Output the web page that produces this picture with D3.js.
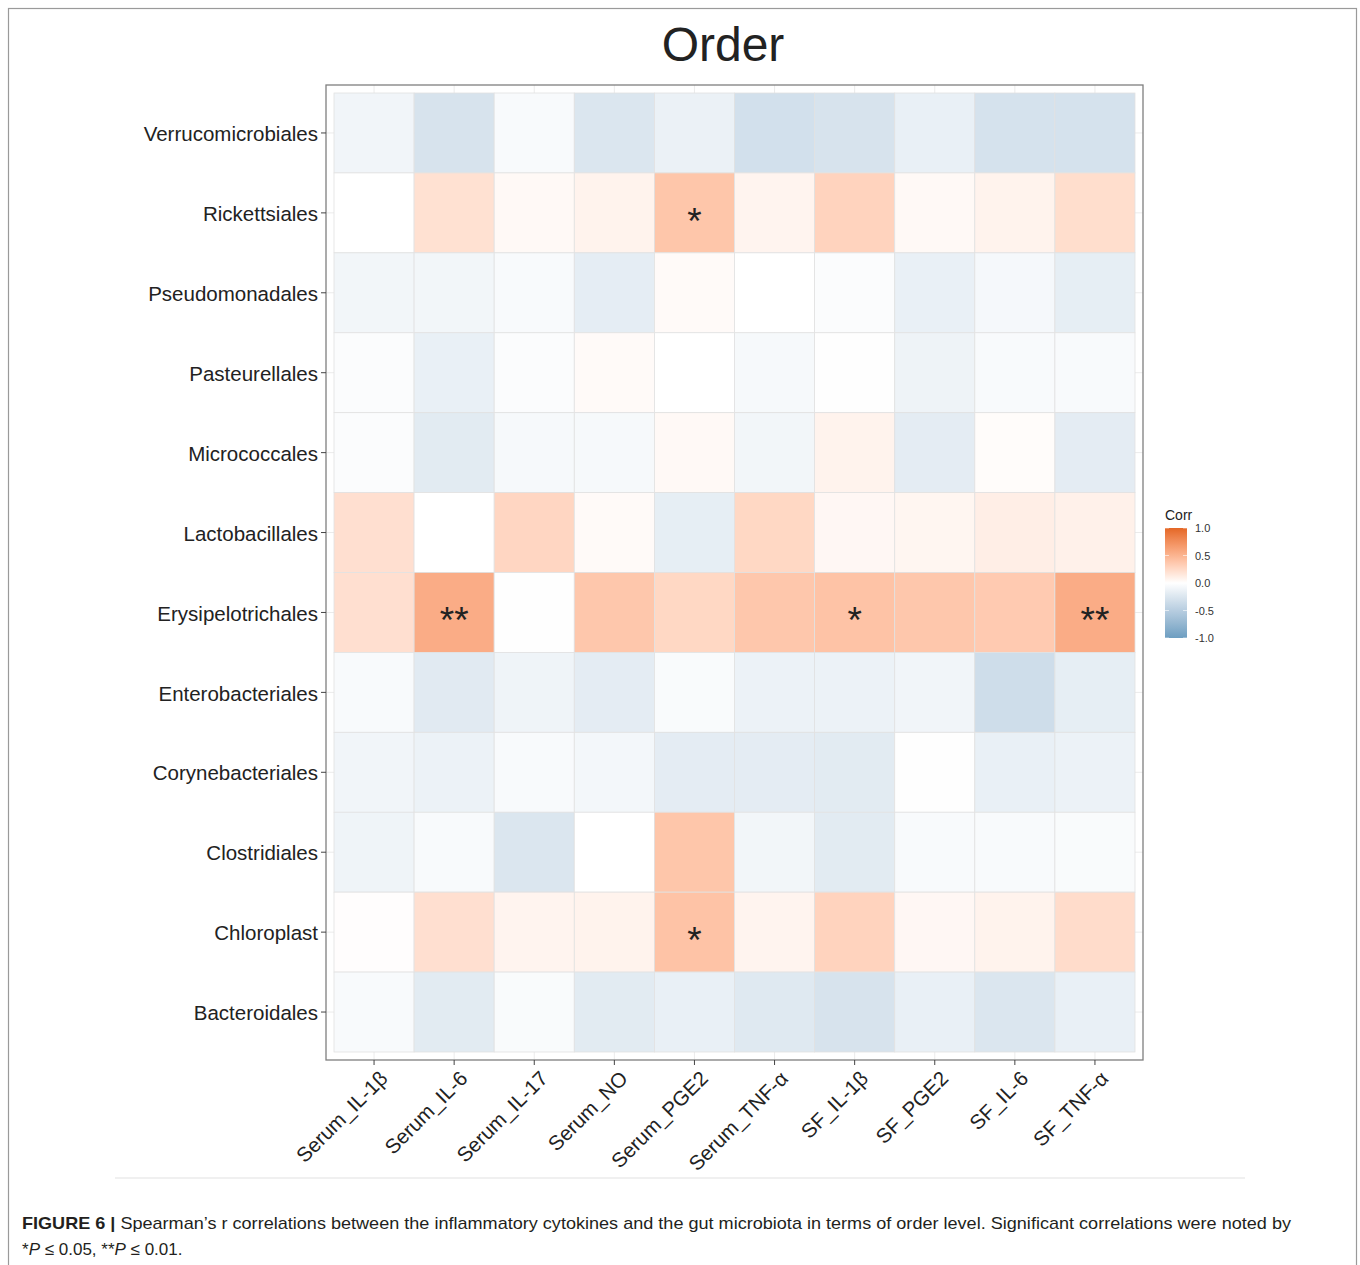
<!DOCTYPE html>
<html>
<head>
<meta charset="utf-8">
<script src="https://cdn.jsdelivr.net/npm/d3@7"></script>
<style>
  body { margin: 0; background: #fff; }
  text { font-family: "Liberation Sans", Arial, sans-serif; }
</style>
</head>
<body>
<div id="chart"></div>
<script>

// cytokines (x) and bacterial orders (y, top to bottom)
const cytokines = ["Serum_IL-1β", "Serum_IL-6", "Serum_IL-17", "Serum_NO", "Serum_PGE2",
                   "Serum_TNF-α", "SF_IL-1β", "SF_PGE2", "SF_IL-6", "SF_TNF-α"];
const orders = ["Verrucomicrobiales", "Rickettsiales", "Pseudomonadales", "Pasteurellales",
                "Micrococcales", "Lactobacillales", "Erysipelotrichales", "Enterobacteriales",
                "Corynebacteriales", "Clostridiales", "Chloroplast", "Bacteroidales"];

// Spearman r, one row per order (same order as above)
const corrValues = [
    [-0.10, -0.28, -0.05, -0.25, -0.14, -0.31, -0.28, -0.15, -0.29, -0.29],
    [ 0.00,  0.20,  0.04,  0.08,  0.38,  0.07,  0.29,  0.04,  0.08,  0.22],
    [-0.09, -0.09, -0.05, -0.18,  0.03,  0.00, -0.03, -0.15, -0.07, -0.17],
    [-0.03, -0.15, -0.03,  0.03,  0.00, -0.06, -0.01, -0.12, -0.05, -0.05],
    [-0.03, -0.20, -0.06, -0.06,  0.04, -0.09,  0.08, -0.19,  0.02, -0.19],
    [ 0.21,  0.00,  0.27,  0.03, -0.17,  0.26,  0.05,  0.06,  0.11,  0.09],
    [ 0.21,  0.55, -0.01,  0.37,  0.26,  0.37,  0.40,  0.37,  0.35,  0.55],
    [-0.05, -0.21, -0.11, -0.19, -0.04, -0.13, -0.13, -0.10, -0.34, -0.17],
    [-0.10, -0.13, -0.05, -0.08, -0.19, -0.19, -0.20, -0.01, -0.15, -0.13],
    [-0.11, -0.05, -0.25,  0.00,  0.38, -0.09, -0.20, -0.05, -0.05, -0.04],
    [ 0.01,  0.21,  0.07,  0.08,  0.40,  0.07,  0.29,  0.05,  0.08,  0.23],
    [-0.05, -0.20, -0.04, -0.20, -0.15, -0.22, -0.28, -0.15, -0.25, -0.15]
];

// significance marks
const sigMarks = [
    {order: "Rickettsiales", cytokine: "Serum_PGE2", mark: "*"},
    {order: "Erysipelotrichales", cytokine: "Serum_IL-6", mark: "**"},
    {order: "Erysipelotrichales", cytokine: "SF_IL-1β", mark: "*"},
    {order: "Erysipelotrichales", cytokine: "SF_TNF-α", mark: "**"},
    {order: "Chloroplast", cytokine: "Serum_PGE2", mark: "*"}
];

const legendTicks = [1.0, 0.5, 0.0, -0.5, -1.0];

const W = 1360, H = 1265;
const svg = d3.select("#chart").append("svg")
    .attr("width", W)
    .attr("height", H);

// figure frame
svg.append("rect")
    .attr("x", 8.5).attr("y", 8.5)
    .attr("width", 1348).attr("height", 1270)
    .attr("fill", "none")
    .attr("stroke", "#9a9a9a")
    .attr("stroke-width", 1.2);

// panel geometry
const panel = {left: 326, top: 85, right: 1143, bottom: 1060};
const pad = 8;

const x = d3.scaleBand()
    .domain(cytokines)
    .range([panel.left + pad, panel.right - pad]);
const y = d3.scaleBand()
    .domain(orders)
    .range([panel.top + pad, panel.bottom - pad]);

const color = d3.scaleLinear()
    .domain([-1, 0, 1])
    .range(["#6D9EC1", "#ffffff", "#E46726"])
    .interpolate(d3.interpolateLab);

// title
svg.append("text")
    .attr("x", 723).attr("y", 61)
    .attr("text-anchor", "middle")
    .attr("font-size", 48)
    .attr("fill", "#222")
    .text("Order");

// grid lines behind tiles
const grid = svg.append("g").attr("stroke", "#ebebeb").attr("stroke-width", 1);
cytokines.forEach(c => {
    const cx = x(c) + x.bandwidth() / 2;
    grid.append("line").attr("x1", cx).attr("x2", cx)
        .attr("y1", panel.top).attr("y2", panel.bottom);
});
orders.forEach(o => {
    const cy = y(o) + y.bandwidth() / 2;
    grid.append("line").attr("y1", cy).attr("y2", cy)
        .attr("x1", panel.left).attr("x2", panel.right);
});

// tiles
const cells = [];
orders.forEach((o, i) => {
    cytokines.forEach((c, j) => {
        cells.push({order: o, cytokine: c, value: corrValues[i][j]});
    });
});

svg.append("g").selectAll("rect")
    .data(cells)
    .enter()
    .append("rect")
    .attr("x", d => x(d.cytokine))
    .attr("y", d => y(d.order))
    .attr("width", x.bandwidth())
    .attr("height", y.bandwidth())
    .attr("fill", d => color(d.value))
    .attr("stroke", "#e2e2e2")
    .attr("stroke-width", 0.8);

// significance asterisks
svg.append("g").selectAll("text")
    .data(sigMarks)
    .enter()
    .append("text")
    .attr("x", d => x(d.cytokine) + x.bandwidth() / 2)
    .attr("y", d => y(d.order) + y.bandwidth() / 2 + 21)
    .attr("text-anchor", "middle")
    .attr("font-size", 37)
    .attr("fill", "#222")
    .text(d => d.mark);

// panel border
svg.append("rect")
    .attr("x", panel.left).attr("y", panel.top)
    .attr("width", panel.right - panel.left)
    .attr("height", panel.bottom - panel.top)
    .attr("fill", "none")
    .attr("stroke", "#7f7f7f")
    .attr("stroke-width", 1.3);

// y axis
const yAxis = svg.append("g")
    .attr("transform", "translate(" + panel.left + ",0)")
    .call(d3.axisLeft(y).tickSize(5).tickPadding(3));
yAxis.select(".domain").remove();
yAxis.selectAll("line").attr("stroke", "#444");
yAxis.selectAll("text")
    .attr("font-size", 20.5)
    .attr("fill", "#222")
    .attr("dy", "0.4em")
    .attr("font-family", "Liberation Sans, Arial, sans-serif");

// x axis
const xAxis = svg.append("g")
    .attr("transform", "translate(0," + panel.bottom + ")")
    .call(d3.axisBottom(x).tickSize(5).tickPadding(3));
xAxis.select(".domain").remove();
xAxis.selectAll("line").attr("stroke", "#444");
xAxis.selectAll("text")
    .attr("font-size", 20.5)
    .attr("fill", "#222")
    .attr("font-family", "Liberation Sans, Arial, sans-serif")
    .attr("text-anchor", "end")
    .attr("dy", null)
    .attr("y", 0)
    .attr("transform", "translate(4,9) rotate(-45)")
    .attr("dominant-baseline", "hanging");

// faint separator under the plot image
svg.append("line")
    .attr("x1", 115).attr("x2", 1245)
    .attr("y1", 1178).attr("y2", 1178)
    .attr("stroke", "#f0f0f0")
    .attr("stroke-width", 2);

// legend
const legend = {x: 1165, top: 528, bottom: 638, width: 22};
const ly = d3.scaleLinear().domain([1, -1]).range([legend.top, legend.bottom]);

const grad = svg.append("defs").append("linearGradient")
    .attr("id", "corrGrad")
    .attr("x1", 0).attr("x2", 0).attr("y1", 0).attr("y2", 1);
d3.range(0, 1.0001, 0.05).forEach(t => {
    grad.append("stop")
        .attr("offset", t)
        .attr("stop-color", color(1 - 2 * t));
});

svg.append("text")
    .attr("x", legend.x).attr("y", 520)
    .attr("font-size", 14)
    .attr("fill", "#222")
    .text("Corr");

svg.append("rect")
    .attr("x", legend.x).attr("y", legend.top)
    .attr("width", legend.width)
    .attr("height", legend.bottom - legend.top)
    .attr("fill", "url(#corrGrad)");

const legAxis = svg.append("g")
    .attr("transform", "translate(" + (legend.x + legend.width) + ",0)")
    .call(d3.axisRight(ly).tickValues(legendTicks)
        .tickFormat(d => d3.format(".1f")(d).replace("−", "-"))
        .tickSize(0).tickPadding(8));
legAxis.select(".domain").remove();
legAxis.selectAll("text")
    .attr("font-size", 11)
    .attr("fill", "#333")
    .attr("font-family", "Liberation Sans, Arial, sans-serif");
legendTicks.forEach(v => {
    svg.append("line")
        .attr("x1", legend.x).attr("x2", legend.x + 4)
        .attr("y1", ly(v)).attr("y2", ly(v))
        .attr("stroke", "#fff").attr("stroke-opacity", 0.6);
    svg.append("line")
        .attr("x1", legend.x + legend.width - 4).attr("x2", legend.x + legend.width)
        .attr("y1", ly(v)).attr("y2", ly(v))
        .attr("stroke", "#fff").attr("stroke-opacity", 0.6);
});

// caption
const cap1 = svg.append("text")
    .attr("x", 22).attr("y", 1229)
    .attr("font-size", 17)
    .attr("fill", "#231f20");
cap1.append("tspan").attr("font-weight", "bold").text("FIGURE 6 | ");
cap1.append("tspan").text("Spearman’s r correlations between the inflammatory cytokines and the gut microbiota in terms of order level. Significant correlations were noted by");
cap1.attr("textLength", 1269).attr("lengthAdjust", "spacingAndGlyphs");

const cap2 = svg.append("text")
    .attr("x", 22).attr("y", 1255)
    .attr("font-size", 17)
    .attr("fill", "#231f20");
cap2.append("tspan").text("*");
cap2.append("tspan").attr("font-style", "italic").text("P");
cap2.append("tspan").text(" ≤ 0.05, **");
cap2.append("tspan").attr("font-style", "italic").text("P");
cap2.append("tspan").text(" ≤ 0.01.");

</script>
</body>
</html>
